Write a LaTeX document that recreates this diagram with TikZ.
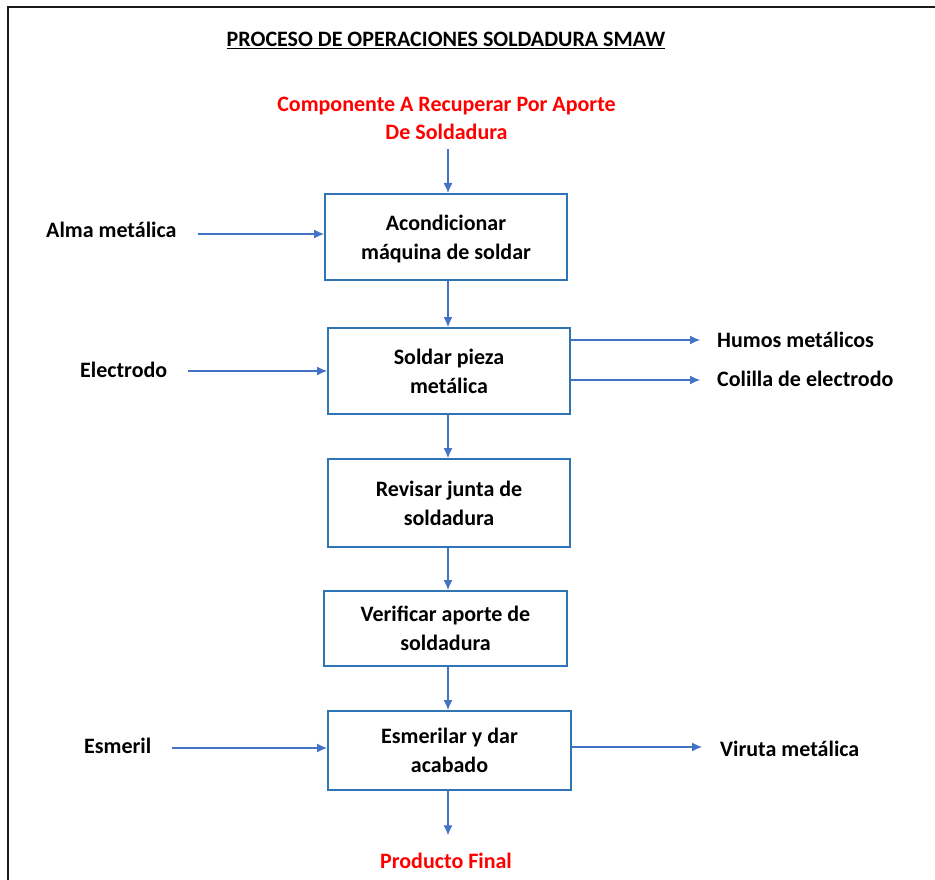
\documentclass[tikz,border=0pt]{standalone}
\usepackage{fontspec}
\setmainfont{Carlito}
\usetikzlibrary{arrows.meta,calc}
\definecolor{boxblue}{HTML}{2E75B6}
\definecolor{flowblue}{HTML}{4472C4}
\definecolor{framegray}{HTML}{1A1A1A}
\definecolor{srcred}{HTML}{FF0000}

\begin{document}
\begin{tikzpicture}[x=1pt,y=-1pt,
  every node/.style={font=\fontsize{22}{29}\selectfont\bfseries, inner sep=0pt},
  stepbox/.style={draw=boxblue, line width=2pt, minimum width=242pt,
    minimum height=86pt, align=center},
  tag/.style={anchor=base west},
  flow/.style={draw=flowblue, line width=1.2pt, -{Latex[length=10pt,width=9pt]}}]

\useasboundingbox (0,0) rectangle (935,880);

% page frame (left and top edges)
\draw[framegray, line width=2.2pt] (8,880) -- (8,7) -- (935,7);

% heading and end points of the flow
\node[anchor=base] (title) at (446,47) {\underline{PROCESO DE OPERACIONES SOLDADURA SMAW}};
\node[text=srcred, align=center, font=\fontsize{22}{28}\selectfont\bfseries] (src) at (446.5,118)
  {Componente A Recuperar Por Aporte\\De Soldadura};
\node[text=srcred, anchor=base] (out) at (446,868) {Producto Final};

% process steps
\node[stepbox] (b1) at (446,237) {Acondicionar\\\smash{máquina de soldar}};
\node[stepbox] (b2) at (449,371) {Soldar pieza\\metálica};
\node[stepbox, minimum height=88pt] (b3) at (449,503) {Revisar junta de\\soldadura};
\node[stepbox, minimum width=243pt, minimum height=75pt] (b4) at (445.5,628.5) {Verificar aporte de\\soldadura};
\node[stepbox, minimum width=243pt, minimum height=79pt] (b5) at (449.5,750.5) {Esmerilar y dar\\acabado};

% inputs
\node[tag] (alma) at (46,237) {Alma metálica};
\node[tag] (elec) at (80,377) {Electrodo};
\node[tag] (esm) at (84,753) {Esmeril};

% outputs
\node[tag] (humos) at (717,347) {Humos metálicos};
\node[tag] (colilla) at (717,386) {Colilla de electrodo};
\node[tag] (viruta) at (720,756) {Viruta metálica};

% main flow column
\coordinate (col) at (448,0);
\draw[flow] ($(src.south -| col)+(0,10)$) -- (b1.north -| col);
\draw[flow] (b1.south -| col) -- (b2.north -| col);
\draw[flow] (b2.south -| col) -- (b3.north -| col);
\draw[flow] (b3.south -| col) -- (b4.north -| col);
\draw[flow] (b4.south -| col) -- (b5.north -| col);
\draw[flow] (b5.south -| col) -- ($(out.north -| col)+(0,-17)$);

% input arrows
\draw[flow] ($(alma.base east)+(21,-3)$) -- ($(b1.west |- alma.base)+(0,-3)$);
\draw[flow] ($(elec.base east)+(21,-6)$) -- ($(b2.west |- elec.base)+(0,-6)$);
\draw[flow] ($(esm.base east)+(20,-5)$) -- ($(b5.west |- esm.base)+(0,-5)$);

% output arrows
\draw[flow] ($(b2.east |- humos.base)+(0,-7)$) -- ($(humos.base west)+(-17,-7)$);
\draw[flow] ($(b2.east |- colilla.base)+(0,-6)$) -- ($(colilla.base west)+(-17,-6)$);
\draw[flow] ($(b5.east |- viruta.base)+(0,-9)$) -- ($(viruta.base west)+(-18,-9)$);
\end{tikzpicture}
\end{document}
